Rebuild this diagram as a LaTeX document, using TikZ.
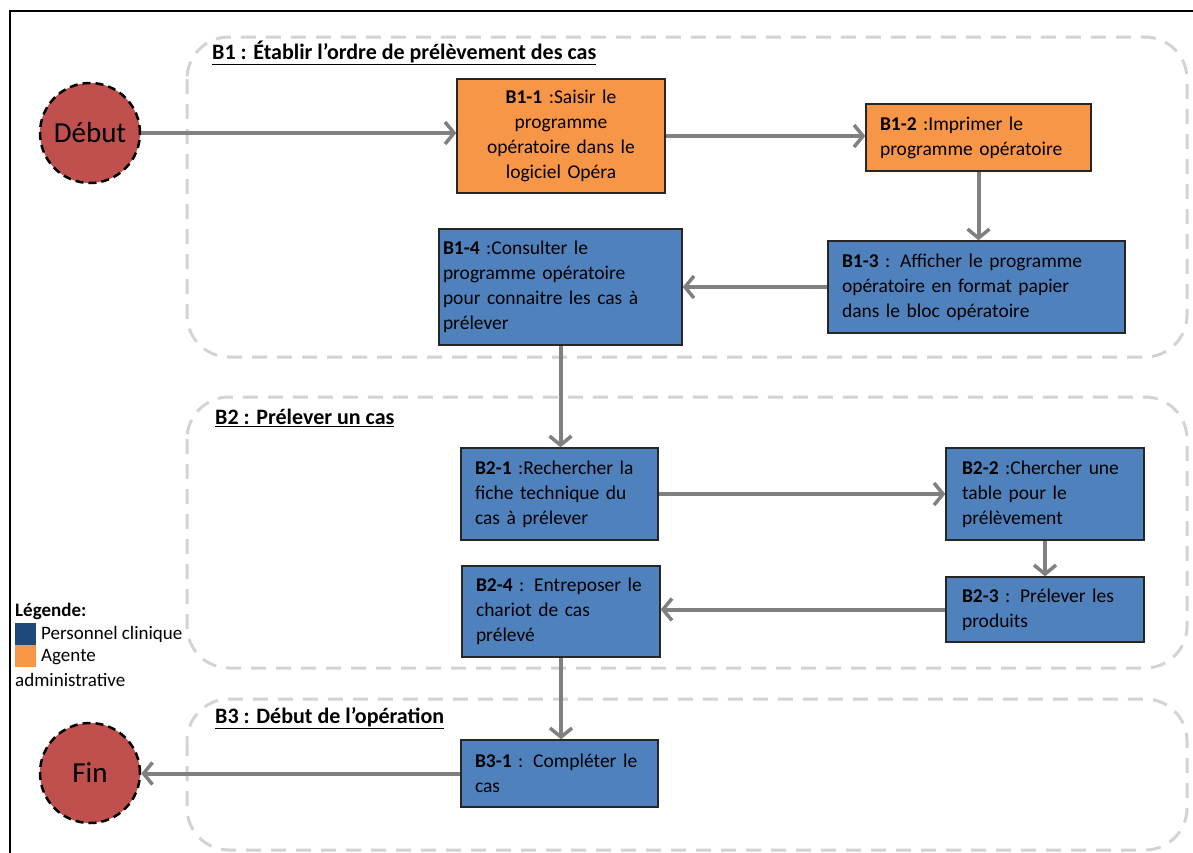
\documentclass[tikz,border=0pt]{standalone}
\usepackage{fontspec}
\setmainfont{Carlito}
\usetikzlibrary{arrows.meta}
\definecolor{orangebox}{HTML}{F79646}
\definecolor{bluebox}{HTML}{4F81BD}
\definecolor{navy}{HTML}{1F497D}
\definecolor{redcirc}{HTML}{C0504D}
\definecolor{arrowgray}{HTML}{808080}
\definecolor{groupgray}{HTML}{D3D3D3}
\tikzset{
  boxtext/.style={font=\fontsize{19.5}{25}\selectfont},
  taskbox/.style={draw=black!85, line width=1.4pt, boxtext, inner xsep=14pt, inner ysep=2pt, align=left, anchor=center},
  orangetask/.style={taskbox, fill=orangebox},
  bluetask/.style={taskbox, fill=bluebox},
  groupbox/.style={draw=groupgray, line width=3pt, dash pattern=on 15pt off 10pt, rounded corners=42pt},
  grouptitle/.style={font=\bfseries\fontsize{22}{25}\selectfont, anchor=west, inner sep=0pt},
  terminal/.style={circle, fill=redcirc, draw=black, line width=2.5pt, dash pattern=on 8pt off 5pt, minimum size=100pt, inner sep=0pt, font=\fontsize{29}{32}\selectfont},
  flow/.style={draw=arrowgray, line width=4pt, -{Straight Barb[length=9pt,width=22pt,line width=3.5pt]}},
  legendsq/.style={minimum width=21pt, minimum height=22pt, inner sep=0pt, anchor=north west},
  legendtext/.style={font=\fontsize{19}{23}\selectfont, anchor=west, inner sep=0pt}
}
\begin{document}
\begin{tikzpicture}[x=1pt,y=-1pt]
\useasboundingbox (0,0) rectangle (1193,852);
% outer frame
\draw[black, line width=2pt] (10,860) -- (10,11) -- (1200,11);

% groups
\draw[groupbox] (187,37) rectangle (1187,357);
\draw[groupbox] (187,397) rectangle (1187,668);
\draw[groupbox] (187,699) rectangle (1187,850);
\node[grouptitle] (t1) at (212,53) {\underline{B1 : Établir l’ordre de prélèvement des cas}};
\node[grouptitle] (t2) at (215,418) {\underline{B2 : Prélever un cas}};
\node[grouptitle] (t3) at (215,718) {\underline{B3 : Début de l’opération}};

% terminals
\node[terminal] (debut) at (90,133) {Début};
\node[terminal] (fin) at (90,773) {Fin};

% tasks
\node[orangetask, minimum width=208pt, minimum height=114pt, text width=180pt, align=center] (b11) at (561,136) {\textbf{B1-1} :Saisir le\\programme\\opératoire dans le\\logiciel Opéra};
\node[orangetask, minimum width=225pt, minimum height=67pt, text width=197pt] (b12) at (978.5,137.5) {\textbf{B1-2} :Imprimer le\\programme opératoire};
\node[bluetask, minimum width=297pt, minimum height=92pt, text width=269pt] (b13) at (976.5,287) {\textbf{B1-3} : Afficher le programme\\opératoire en format papier\\dans le bloc opératoire};
\node[bluetask, minimum width=243pt, minimum height=116pt, text width=235pt, inner xsep=4pt] (b14) at (560.5,287) {\textbf{B1-4} :Consulter le\\programme opératoire\\pour connaitre les cas à\\prélever};
\node[bluetask, minimum width=197pt, minimum height=92pt, text width=169pt] (b21) at (559.5,494) {\textbf{B2-1} :Rechercher la\\fiche technique du\\cas à prélever};
\node[bluetask, minimum width=198pt, minimum height=92pt, text width=166pt, inner xsep=16pt] (b22) at (1045,494) {\textbf{B2-2} :Chercher une\\table pour le\\prélèvement};
\node[bluetask, minimum width=198pt, minimum height=65pt, text width=166pt, inner xsep=16pt] (b23) at (1045,609.5) {\textbf{B2-3} : Prélever les\\produits};
\node[bluetask, minimum width=198pt, minimum height=91pt, text width=170pt] (b24) at (561,611.5) {\textbf{B2-4} : Entreposer le\\chariot de cas\\prélevé};
\node[bluetask, minimum width=197pt, minimum height=67pt, text width=169pt] (b31) at (559.5,773.5) {\textbf{B3-1} : Compléter le\\cas};

% connectors
\draw[flow] (debut.east) -- (debut.east -| b11.west);
\draw[flow] (b11.east) -- (b11.east -| b12.west);
\draw[flow] (b12.south) -- (b12.south |- b13.north);
\draw[flow] (b13.west) -- (b13.west -| b14.east);
\draw[flow] (b14.south) -- (b14.south |- b21.north);
\draw[flow] (b21.east) -- (b21.east -| b22.west);
\draw[flow] (b22.south) -- (b22.south |- b23.north);
\draw[flow] (b23.west) -- (b23.west -| b24.east);
\draw[flow] (b24.south) -- (b24.south |- b31.north);
\draw[flow] (b31.west) -- (b31.west -| fin.east);

% legend
\node[legendtext, font=\bfseries\fontsize{19}{23}\selectfont] (lg) at (15,611) {Légende:};
\node[legendsq, fill=navy] (sq1) at (15,623) {};
\node[legendsq, fill=orangebox] (sq2) at (15,645) {};
\node[legendtext] (l1) at (41,634) {Personnel clinique};
\node[legendtext] (l2) at (41,657) {Agente};
\node[legendtext] (l3) at (15,680) {administrative};
\end{tikzpicture}
\end{document}
